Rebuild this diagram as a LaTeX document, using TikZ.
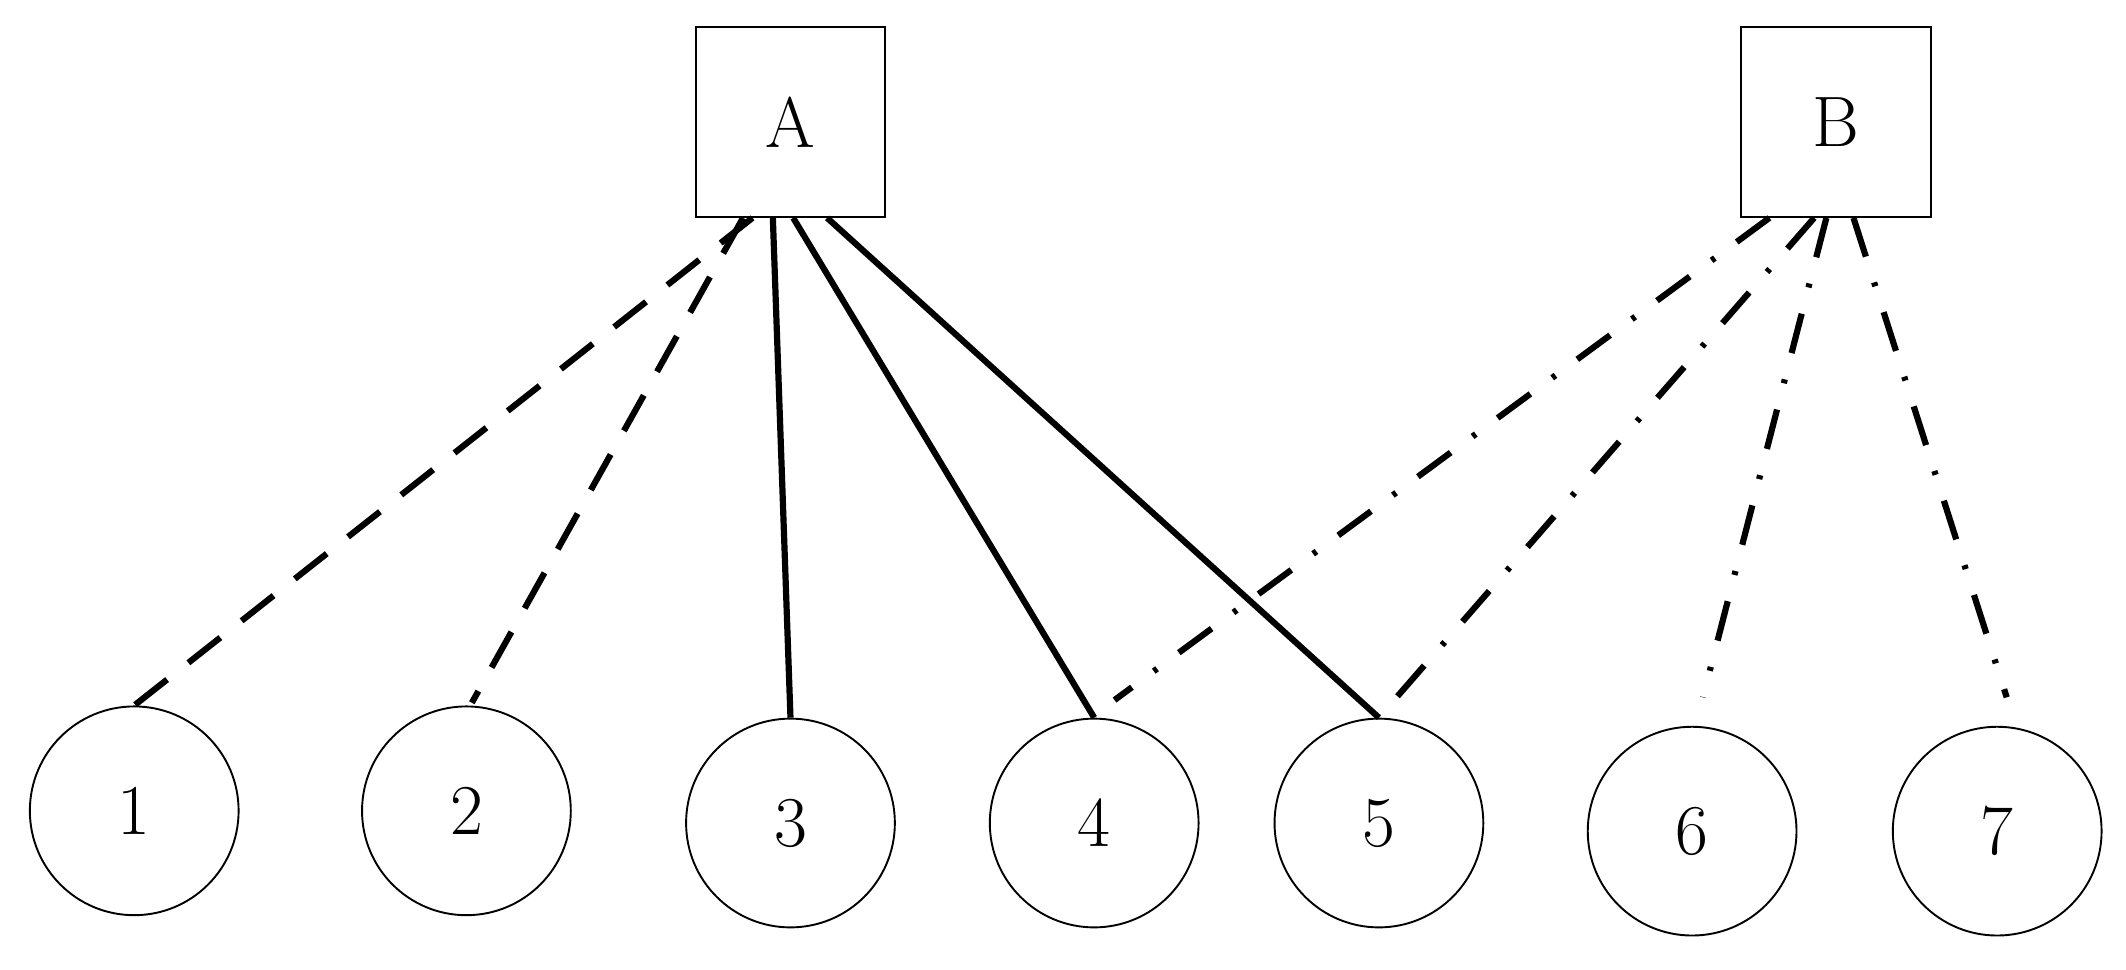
\documentclass[tikz,border=0pt]{standalone}
\begin{document}
\begin{tikzpicture}[x=0.02cm,y=-0.02cm,
 box/.style={draw,line width=0.8pt,minimum size=2.8cm,inner sep=0pt,font=\fontsize{30}{36}\selectfont},
 circ/.style={draw,circle,line width=0.8pt,minimum size=3.08cm,inner sep=0pt,font=\fontsize{30}{36}\selectfont},
 e/.style={line width=2.6pt},
 da/.style={e,dash pattern=on 0.6cm off 0.4cm},
 dd/.style={e,dash pattern=on 0.6cm off 0.4cm on 0.06cm off 0.4cm}]
\useasboundingbox (0,0) rectangle (1568,715);
\node[box] (A) at (583,90) {A};
\node[box] (B) at (1354,90) {B};
\node[circ] (c1) at (99,598) {1};
\node[circ] (c2) at (344,598) {2};
\node[circ] (c3) at (583,607) {3};
\node[circ] (c4) at (807,607) {4};
\node[circ] (c5) at (1017,607) {5};
\node[circ] (c6) at (1248,613) {6};
\node[circ] (c7) at (1473,613) {7};
\draw[da] ([xshift=-0.56cm]A.south) -- (c1.north);
\draw[da] ([xshift=-0.7cm]A.south) -- ([xshift=0.08cm,yshift=0.04cm]c2.north);
\draw[e] ([xshift=-0.26cm]A.south) -- (c3.north);
\draw[e] ([xshift=0.04cm]A.south) -- (c4.north);
\draw[e] ([xshift=0.54cm]A.south) -- (c5.north);
\draw[dd] ([xshift=-0.98cm]B.south) -- ([xshift=0.3cm,yshift=0.26cm]c4.north);
\draw[dd] ([xshift=-0.32cm]B.south) -- ([xshift=0.26cm,yshift=0.3cm]c5.north);
\draw[dd] ([xshift=-0.14cm]B.south) -- ([xshift=0.16cm,yshift=0.42cm]c6.north);
\draw[dd] ([xshift=0.26cm]B.south) -- ([xshift=0.14cm,yshift=0.42cm]c7.north);
\end{tikzpicture}
\end{document}
